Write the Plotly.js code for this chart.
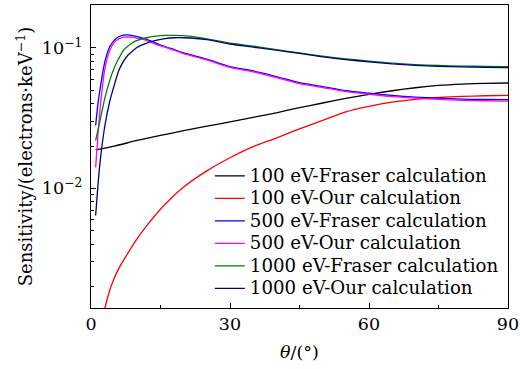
<!DOCTYPE html>
<html>
<head>
<meta charset="utf-8">
<script src="https://cdn.plot.ly/plotly-3.0.1.min.js"></script>
<style>html,body{margin:0;padding:0;background:#fff}#chart{width:520px;height:369px}</style>
</head>
<body>
<div id="chart"></div>
<script>
// angle grid (degrees)
const theta = [1, 1.5, 2, 3, 4, 5, 6, 7, 8, 9, 10, 12, 14, 16, 18, 20, 25, 30, 35, 40, 45, 50, 55, 60, 65, 70, 75, 80, 85, 90];
const thetaFraser100 = [1, 5, 10, 15, 20, 25, 30, 35, 40, 45, 50, 55, 60, 65, 70, 75, 80, 85, 90];
const thetaOur100 = [2.5, 3, 4, 5, 6, 8, 10, 12, 15, 20, 25, 30, 35, 40, 45, 50, 55, 60, 65, 70, 75, 80, 85, 90];

const fraser100 = [0.0188, 0.0200, 0.0219, 0.0238, 0.0257, 0.0277, 0.0297, 0.0320, 0.0345, 0.0375, 0.0405, 0.0437, 0.0467, 0.0495, 0.0520, 0.0540, 0.0552, 0.0559, 0.0562];
const our100 = [0.00118, 0.00141, 0.00186, 0.00229, 0.00269, 0.00347, 0.0044, 0.0054, 0.0071, 0.0102, 0.0133, 0.0165, 0.0198, 0.0228, 0.0265, 0.0305, 0.0350, 0.0383, 0.0411, 0.0430, 0.0443, 0.0451, 0.0456, 0.0459];
const fraser500 = [0.028, 0.040, 0.052, 0.080, 0.101, 0.113, 0.120, 0.123, 0.1235, 0.122, 0.120, 0.115, 0.108, 0.102, 0.097, 0.092, 0.083, 0.0735, 0.0685, 0.0625, 0.0565, 0.0530, 0.0495, 0.0475, 0.0458, 0.0446, 0.0438, 0.0432, 0.0429, 0.0428];
const our500 = [0.0141, 0.0238, 0.038, 0.071, 0.095, 0.109, 0.116, 0.119, 0.1195, 0.119, 0.117, 0.113, 0.106, 0.101, 0.096, 0.091, 0.082, 0.0725, 0.0675, 0.0615, 0.0557, 0.0522, 0.0488, 0.0468, 0.0450, 0.0438, 0.0429, 0.0423, 0.0420, 0.0418];
const fraser1000 = [0.0219, 0.026, 0.031, 0.044, 0.058, 0.072, 0.084, 0.096, 0.103, 0.109, 0.113, 0.118, 0.121, 0.1225, 0.1225, 0.122, 0.116, 0.108, 0.103, 0.097, 0.092, 0.0872, 0.0835, 0.0805, 0.0778, 0.0760, 0.0749, 0.0742, 0.0738, 0.0736];
const our1000 = [0.0064, 0.0105, 0.0158, 0.028, 0.041, 0.054, 0.069, 0.080, 0.089, 0.095, 0.101, 0.108, 0.113, 0.1165, 0.118, 0.118, 0.1145, 0.1065, 0.1012, 0.0962, 0.0912, 0.0862, 0.0825, 0.0795, 0.0768, 0.0750, 0.0738, 0.0731, 0.0727, 0.0724];

const seriesNames = ["100 eV-Fraser calculation", "100 eV-Our calculation", "500 eV-Fraser calculation", "500 eV-Our calculation", "1000 eV-Fraser calculation", "1000 eV-Our calculation"];
const xTickVals = [0, 30, 60, 90];
const xTickText = ["0", "30", "60", "90"];
const xMinorVals = [15, 45, 75];
const yTickVals = [0.01, 0.1];
const yTickText = ["10<sup>−2</sup>", "10<sup>−1</sup>"];
const yMinorVals = [0.002, 0.003, 0.004, 0.005, 0.006, 0.007, 0.008, 0.009, 0.02, 0.03, 0.04, 0.05, 0.06, 0.07, 0.08, 0.09, 0.2];

const colors = ["#000000", "#ff0000", "#0000ff", "#ff00ff", "#008000", "#000080"];
const xs = [thetaFraser100, thetaOur100, theta, theta, theta, theta];
const ys = [fraser100, our100, fraser500, our500, fraser1000, our1000];

const FONT = "DejaVu Serif";
const traces = ys.map((y, i) => ({
  x: xs[i], y: y, type: "scatter", mode: "lines",
  name: '<span style="font-size:18.2px">' + seriesNames[i] + '</span>',
  line: {color: colors[i], width: 1.3, shape: "spline", smoothing: 0.6}
}));

const layout = {
  width: 520, height: 369,
  margin: {l: 91, r: 12, t: 5, b: 61},
  paper_bgcolor: "#fff", plot_bgcolor: "#fff",
  font: {family: FONT, size: 17.5, color: "#000"},
  showlegend: true,
  legend: {x: 0.285, xanchor: "left", y: 0.49, yanchor: "top", bgcolor: "rgba(0,0,0,0)",
           font: {family: FONT, size: 15, color: "#000"}, tracegroupgap: 0},
  xaxis: {
    range: [0, 90], tickmode: "array", tickvals: xTickVals, ticktext: xTickText,
    ticks: "inside", ticklen: 5, tickwidth: 1, tickcolor: "#000",
    minor: {tickvals: xMinorVals, ticks: "inside", ticklen: 3, tickwidth: 1, tickcolor: "#000"},
    showline: true, linecolor: "#000", linewidth: 1.3, mirror: true,
    showgrid: false, zeroline: false,
    title: {text: "<i>θ</i>/(°)", standoff: 12, font: {family: FONT, size: 17.5}}
  },
  yaxis: {
    type: "log", range: [-2.852, -0.695], tickmode: "array", tickvals: yTickVals, ticktext: yTickText,
    ticks: "inside", ticklen: 5, tickwidth: 1, tickcolor: "#000", ticklabelstandoff: 4,
    minor: {tickvals: yMinorVals, ticks: "inside", ticklen: 3, tickwidth: 1, tickcolor: "#000"},
    showline: true, linecolor: "#000", linewidth: 1.3, mirror: true,
    showgrid: false, zeroline: false,
    title: {text: "Sensitivity/(electrons·keV<sup>−1</sup>)", standoff: 4, font: {family: FONT, size: 18}}
  }
};

Plotly.newPlot("chart", traces, layout, {staticPlot: true, displayModeBar: false});
</script>
</body>
</html>
